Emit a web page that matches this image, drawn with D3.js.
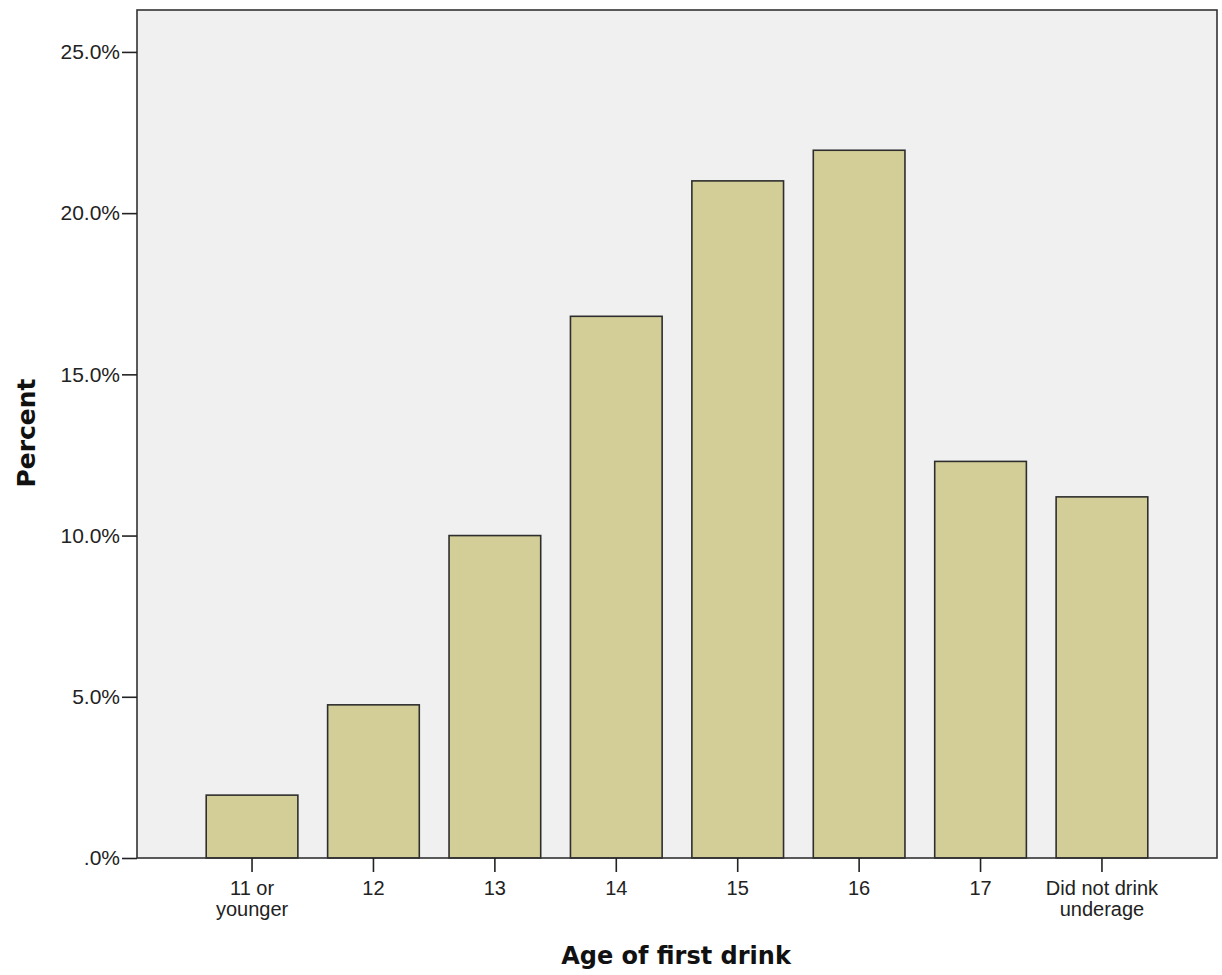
<!DOCTYPE html>
<html>
<head>
<meta charset="utf-8">
<script src="https://cdn.jsdelivr.net/npm/d3@7"></script>
<style>
  html, body { margin: 0; padding: 0; background: #ffffff; }
  svg { display: block; }
</style>
</head>
<body>
<script>
const categories = ["11 or younger", "12", "13", "14", "15", "16", "17", "Did not drink underage"];
const categoryLines = [["11 or", "younger"], ["12"], ["13"], ["14"], ["15"], ["16"], ["17"], ["Did not drink", "underage"]];
const percentValues = [1.95, 4.75, 10.0, 16.8, 21.0, 21.95, 12.3, 11.2];
const yTickValues = [0, 5, 10, 15, 20, 25];
const yTickLabels = [".0%", "5.0%", "10.0%", "15.0%", "20.0%", "25.0%"];
const xTitle = "Age of first drink";
const yTitle = "Percent";

const W = 1222, H = 975;
const plot = { left: 137, right: 1217, top: 10, bottom: 858 };

const svg = d3.select("body").append("svg").attr("width", W).attr("height", H);

const x = d3.scaleBand()
  .domain(categories)
  .range([plot.left, plot.right])
  .paddingInner(0.245)
  .paddingOuter(0.57);

const y = d3.scaleLinear().domain([0, 26.3]).range([plot.bottom, plot.top]);

// plot background
svg.append("rect")
  .attr("x", plot.left).attr("y", plot.top)
  .attr("width", plot.right - plot.left).attr("height", plot.bottom - plot.top)
  .attr("fill", "#f0f0f0");

// bars
svg.append("g").selectAll("rect")
  .data(percentValues)
  .join("rect")
  .attr("x", (d, i) => x(categories[i]))
  .attr("y", d => y(d))
  .attr("width", x.bandwidth())
  .attr("height", d => y(0) - y(d))
  .attr("fill", "#d3ce97")
  .attr("stroke", "#2e2e2e")
  .attr("stroke-width", 1.6);

// frame
svg.append("rect")
  .attr("x", plot.left).attr("y", plot.top)
  .attr("width", plot.right - plot.left).attr("height", plot.bottom - plot.top)
  .attr("fill", "none")
  .attr("stroke", "#333")
  .attr("stroke-width", 1.6);

// y axis
const yAxis = d3.axisLeft(y)
  .tickValues(yTickValues)
  .tickFormat((d, i) => yTickLabels[i])
  .tickSize(15)
  .tickPadding(2);
const gy = svg.append("g").attr("transform", `translate(${plot.left},0)`).call(yAxis);
gy.select(".domain").remove();
gy.selectAll(".tick line").attr("stroke", "#222").attr("stroke-width", 1.6);
gy.selectAll(".tick text")
  .attr("font-family", "'Liberation Sans', Arial, sans-serif")
  .attr("font-size", 21)
  .attr("fill", "#222");

// x axis
const xAxis = d3.axisBottom(x).tickSize(14).tickFormat("");
const gx = svg.append("g").attr("transform", `translate(0,${plot.bottom})`).call(xAxis);
gx.select(".domain").remove();
gx.selectAll(".tick line").attr("stroke", "#222").attr("stroke-width", 1.6);
gx.selectAll(".tick").each(function(d, i) {
  const t = d3.select(this).append("text")
    .attr("text-anchor", "middle")
    .attr("font-family", "'Liberation Sans', Arial, sans-serif")
    .attr("font-size", 20)
    .attr("fill", "#222");
  categoryLines[i].forEach((line, j) => {
    t.append("tspan").attr("x", 0).attr("y", 37 + j * 21).text(line);
  });
});

// titles
svg.append("text")
  .attr("x", 676)
  .attr("y", 964)
  .attr("text-anchor", "middle")
  .attr("font-family", "'DejaVu Sans', Verdana, sans-serif")
  .attr("font-weight", "bold")
  .attr("font-size", 24)
  .attr("fill", "#111")
  .text(xTitle);

svg.append("text")
  .attr("transform", `translate(35,433) rotate(-90)`)
  .attr("text-anchor", "middle")
  .attr("font-family", "'DejaVu Sans', Verdana, sans-serif")
  .attr("font-weight", "bold")
  .attr("font-size", 25)
  .attr("fill", "#111")
  .text(yTitle);
</script>
</body>
</html>
